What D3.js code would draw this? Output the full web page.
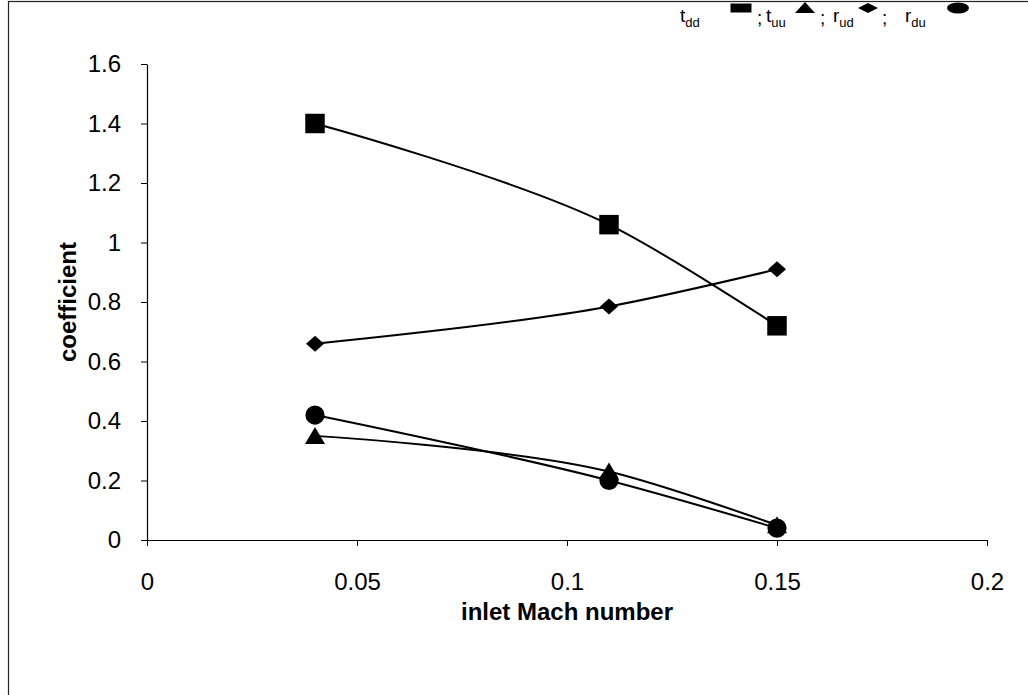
<!DOCTYPE html>
<html>
<head>
<meta charset="utf-8">
<script src="https://cdn.jsdelivr.net/npm/d3@7"></script>
<style>
  body { margin: 0; background: #fff; }
  svg { display: block; font-family: 'Liberation Sans', Arial, sans-serif; }
</style>
</head>
<body>
<svg id="chart" width="1028" height="695"></svg>
<script>
// data
const machNumbers = [0.04, 0.11, 0.15]
const tdd = [1.40, 1.06, 0.72]
const tuu = [0.35, 0.23, 0.05]
const rud = [0.66, 0.785, 0.91]
const rdu = [0.42, 0.20, 0.04]

const xTicks = [0, 0.05, 0.1, 0.15, 0.2]
const yTicks = [0, 0.2, 0.4, 0.6, 0.8, 1, 1.2, 1.4, 1.6]

const seriesNames = [
  { main: 't', sub: 'dd', values: tdd, symbol: 'square' },
  { main: 't', sub: 'uu', values: tuu, symbol: 'triangle' },
  { main: 'r', sub: 'ud', values: rud, symbol: 'diamond' },
  { main: 'r', sub: 'du', values: rdu, symbol: 'circle' }
]

const svg = d3.select('#chart')
const margin = { left: 147, right: 41, top: 64, bottom: 155 }
const width = +svg.attr('width')
const height = +svg.attr('height')

// outer frame (right and bottom edges fall outside the picture)
svg.append('rect')
  .attr('x', 8.5).attr('y', 1.5)
  .attr('width', 1100).attr('height', 800)
  .attr('fill', 'none')
  .attr('stroke', '#222')
  .attr('stroke-width', 1.2)

const x = d3.scaleLinear()
  .domain([0, 0.2])
  .range([margin.left, width - margin.right])

const y = d3.scaleLinear()
  .domain([0, 1.6])
  .range([height - margin.bottom, margin.top])

// Axes
svg.append('g')
  .attr('transform', `translate(0,${y(0)})`)
  .call(d3.axisBottom(x).tickValues(xTicks).tickFormat(d => d3.format('')(d)).tickSize(6).tickSizeOuter(0).tickPadding(27))
svg.append('g')
  .attr('transform', `translate(${x(0)},0)`)
  .call(d3.axisLeft(y).tickValues(yTicks).tickFormat(d => d3.format('')(d)).tickSize(6).tickSizeOuter(0).tickPadding(20))

svg.selectAll('.domain').attr('stroke', '#000').attr('stroke-width', 1.2)
svg.selectAll('.tick line').attr('stroke', '#000').attr('stroke-width', 1)
svg.selectAll('.tick text')
  .attr('fill', '#000')
  .style('font-size', '24px')
  .style('font-family', "'Liberation Sans', Arial, sans-serif")

// Axis titles
svg.append('text')
  .attr('x', x(0.1))
  .attr('y', 620)
  .attr('text-anchor', 'middle')
  .style('font-size', '24px')
  .style('font-weight', 'bold')
  .text('inlet Mach number')

svg.append('text')
  .attr('transform', `translate(76,${y(0.8)}) rotate(-90)`)
  .attr('text-anchor', 'middle')
  .style('font-size', '24px')
  .style('font-weight', 'bold')
  .text('coefficient')

// Marker shapes
const symbolPath = {
  square: d3.symbol(d3.symbolSquare, 380)(),
  triangle: 'M0,-9L10,8H-10Z',
  diamond: 'M0,-8L9,0L0,8L-9,0Z',
  circle: d3.symbol(d3.symbolCircle, 290)()
}

// Lines (smoothed like the spreadsheet)
const line = d3.line()
  .x((d, i) => x(machNumbers[i]))
  .y(d => y(d))
  .curve(d3.curveCatmullRom.alpha(1))

seriesNames.forEach(s => {
  svg.append('path')
    .datum(s.values)
    .attr('fill', 'none')
    .attr('stroke', '#000')
    .attr('stroke-width', 2)
    .attr('d', line)

  svg.append('g')
    .selectAll('path')
    .data(s.values)
    .join('path')
    .attr('transform', (d, i) => `translate(${x(machNumbers[i])},${y(d)})`)
    .attr('d', symbolPath[s.symbol])
    .attr('fill', '#000')
})

// Legend
const legendText = [680, 766, 833, 905]
const legendMark = [741, 805, 868, 958]
const legendSemi = [757, 820, 882]
const legendShape = {
  square: 'M-10.5,-4.5H10.5V4.5H-10.5Z',
  triangle: 'M0,-6L10,5H-10Z',
  diamond: 'M0,-5L10,0L0,5L-10,0Z',
  circle: 'M-11,0A11,5.5 0 1,0 11,0A11,5.5 0 1,0 -11,0Z'
}
const legend = svg.append('g')
seriesNames.forEach((s, i) => {
  const t = legend.append('text')
    .attr('x', legendText[i])
    .attr('y', 22)
    .style('font-size', '19px')
  t.append('tspan').text(s.main)
  t.append('tspan').attr('dy', 5).style('font-size', '13px').text(s.sub)
  legend.append('path')
    .attr('transform', `translate(${legendMark[i]},8)`)
    .attr('d', legendShape[s.symbol])
    .attr('fill', '#000')
  if (i < legendSemi.length) {
    legend.append('text')
      .attr('x', legendSemi[i])
      .attr('y', 24)
      .style('font-size', '19px')
      .text(';')
  }
})
</script>
</body>
</html>
